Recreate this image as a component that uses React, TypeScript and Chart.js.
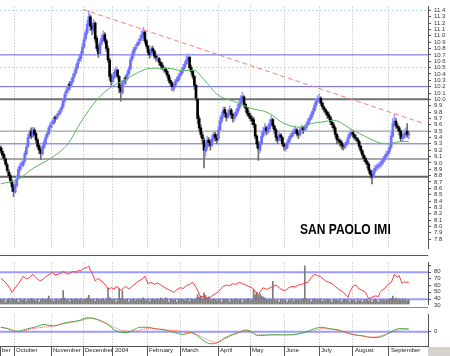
import { useEffect, useRef } from 'react';
import { Chart, registerables } from 'chart.js';
Chart.register(...registerables);

// ---------------- DATA ----------------
const OPEN = [
  9.24, 9.18, 9.13, 9.06, 8.97, 8.86, 8.80, 8.70, 8.62, 8.54,
  8.64, 8.76, 8.90, 8.97, 8.96, 9.03, 9.14, 9.26, 9.40, 9.50,
  9.42, 9.52, 9.46, 9.36, 9.27, 9.20, 9.14, 9.24, 9.30, 9.41,
  9.46, 9.56, 9.62, 9.62, 9.72, 9.70, 9.75, 9.78, 9.83, 9.88,
  9.98, 10.10, 10.15, 10.24, 10.22, 10.28, 10.36, 10.42, 10.50, 10.60,
  10.64, 10.72, 10.82, 10.95, 11.05, 11.18, 11.30, 11.16, 11.08, 11.20,
  10.96, 10.82, 10.72, 10.88, 10.96, 11.02, 10.92, 10.80, 10.62, 10.36,
  10.28, 10.34, 10.42, 10.46, 10.36, 10.18, 10.10, 10.27, 10.34, 10.32,
  10.40, 10.48, 10.62, 10.70, 10.78, 10.84, 10.86, 10.92, 10.95, 11.02,
  11.06, 10.92, 10.84, 10.74, 10.70, 10.80, 10.76, 10.68, 10.62, 10.64,
  10.58, 10.54, 10.46, 10.48, 10.44, 10.38, 10.30, 10.26, 10.16, 10.20,
  10.28, 10.30, 10.36, 10.40, 10.46, 10.50, 10.56, 10.62, 10.66, 10.50,
  10.44, 10.36, 10.22, 10.00, 9.70, 9.55, 9.44, 9.36, 9.18, 9.25,
  9.36, 9.32, 9.28, 9.38, 9.45, 9.40, 9.38, 9.52, 9.66, 9.74,
  9.84, 9.78, 9.72, 9.78, 9.83, 9.76, 9.70, 9.74, 9.80, 9.86,
  9.92, 10.00, 10.04, 9.92, 9.86, 9.78, 9.74, 9.70, 9.68, 9.60,
  9.42, 9.30, 9.20, 9.30, 9.42, 9.50, 9.55, 9.48, 9.54, 9.62,
  9.68, 9.58, 9.52, 9.40, 9.36, 9.44, 9.40, 9.30, 9.22, 9.24,
  9.32, 9.38, 9.42, 9.46, 9.50, 9.52, 9.46, 9.44, 9.52, 9.56,
  9.52, 9.56, 9.60, 9.66, 9.70, 9.76, 9.82, 9.90, 9.97, 10.00,
  10.02, 9.94, 9.88, 9.84, 9.80, 9.76, 9.72, 9.64, 9.60, 9.55,
  9.45, 9.36, 9.35, 9.32, 9.28, 9.24, 9.28, 9.32, 9.40, 9.46,
  9.48, 9.44, 9.40, 9.38, 9.34, 9.26, 9.19, 9.12, 9.07, 9.02,
  8.98, 8.88, 8.82, 8.78, 8.88, 8.92, 8.95, 8.96, 8.98, 9.02,
  9.06, 9.10, 9.14, 9.18, 9.25, 9.42, 9.62, 9.66, 9.58, 9.55,
  9.50, 9.38, 9.40, 9.46, 9.50, 9.44,
];
const HIGH = [
  9.27, 9.22, 9.15, 9.08, 9.00, 8.90, 8.84, 8.74, 8.66, 8.70,
  8.80, 8.94, 9.00, 9.03, 9.06, 9.18, 9.30, 9.45, 9.52, 9.55,
  9.56, 9.55, 9.48, 9.39, 9.30, 9.23, 9.28, 9.36, 9.44, 9.50,
  9.58, 9.64, 9.67, 9.72, 9.74, 9.78, 9.82, 9.86, 9.93, 10.02,
  10.12, 10.18, 10.24, 10.28, 10.33, 10.40, 10.46, 10.55, 10.63, 10.70,
  10.76, 10.88, 11.00, 11.10, 11.24, 11.39, 11.33, 11.20, 11.26, 11.22,
  11.00, 10.86, 10.92, 11.02, 11.08, 11.05, 10.95, 10.84, 10.65, 10.40,
  10.40, 10.48, 10.52, 10.48, 10.38, 10.22, 10.30, 10.34, 10.38, 10.45,
  10.52, 10.66, 10.75, 10.82, 10.86, 10.90, 10.95, 11.00, 11.08, 11.13,
  11.08, 10.95, 10.86, 10.78, 10.84, 10.84, 10.78, 10.72, 10.70, 10.66,
  10.60, 10.58, 10.52, 10.50, 10.46, 10.40, 10.34, 10.28, 10.24, 10.32,
  10.36, 10.40, 10.44, 10.50, 10.55, 10.60, 10.68, 10.72, 10.68, 10.54,
  10.46, 10.38, 10.24, 10.02, 9.74, 9.60, 9.48, 9.40, 9.30, 9.42,
  9.40, 9.36, 9.44, 9.50, 9.48, 9.44, 9.58, 9.72, 9.80, 9.88,
  9.88, 9.80, 9.84, 9.90, 9.86, 9.78, 9.80, 9.84, 9.92, 9.98,
  10.06, 10.11, 10.06, 9.94, 9.88, 9.82, 9.78, 9.74, 9.72, 9.62,
  9.44, 9.34, 9.34, 9.48, 9.56, 9.62, 9.58, 9.60, 9.68, 9.74,
  9.70, 9.60, 9.54, 9.42, 9.50, 9.46, 9.42, 9.32, 9.30, 9.36,
  9.42, 9.46, 9.50, 9.54, 9.58, 9.54, 9.50, 9.56, 9.60, 9.58,
  9.60, 9.64, 9.70, 9.74, 9.80, 9.86, 9.94, 10.02, 10.06, 10.09,
  10.04, 9.96, 9.90, 9.86, 9.82, 9.80, 9.74, 9.68, 9.64, 9.58,
  9.47, 9.42, 9.38, 9.35, 9.30, 9.32, 9.36, 9.44, 9.50, 9.52,
  9.50, 9.46, 9.44, 9.40, 9.36, 9.28, 9.21, 9.14, 9.09, 9.04,
  9.00, 8.90, 8.84, 8.92, 8.96, 8.98, 9.00, 9.02, 9.06, 9.10,
  9.14, 9.18, 9.22, 9.30, 9.48, 9.70, 9.77, 9.70, 9.62, 9.58,
  9.52, 9.46, 9.52, 9.55, 9.62, 9.50,
];
const LOW = [
  9.15, 9.08, 9.03, 8.95, 8.85, 8.76, 8.68, 8.55, 8.47, 8.52,
  8.62, 8.74, 8.86, 8.90, 8.94, 9.00, 9.12, 9.24, 9.38, 9.38,
  9.40, 9.42, 9.32, 9.22, 9.14, 9.05, 9.12, 9.22, 9.28, 9.38,
  9.44, 9.52, 9.55, 9.60, 9.64, 9.68, 9.72, 9.75, 9.80, 9.86,
  9.95, 10.05, 10.10, 10.15, 10.18, 10.25, 10.33, 10.40, 10.48, 10.56,
  10.60, 10.70, 10.80, 10.92, 11.02, 11.15, 11.08, 11.02, 11.05, 10.90,
  10.76, 10.66, 10.70, 10.85, 10.92, 10.88, 10.76, 10.58, 10.30, 10.22,
  10.25, 10.32, 10.38, 10.32, 10.10, 9.97, 10.08, 10.20, 10.24, 10.30,
  10.38, 10.46, 10.60, 10.66, 10.74, 10.80, 10.84, 10.88, 10.92, 10.98,
  10.88, 10.80, 10.70, 10.65, 10.68, 10.72, 10.64, 10.60, 10.60, 10.54,
  10.48, 10.46, 10.42, 10.40, 10.34, 10.26, 10.22, 10.14, 10.12, 10.18,
  10.24, 10.28, 10.32, 10.38, 10.42, 10.48, 10.54, 10.58, 10.46, 10.40,
  10.32, 10.16, 9.98, 9.62, 9.50, 9.40, 9.30, 8.92, 9.10, 9.20,
  9.26, 9.20, 9.25, 9.34, 9.34, 9.30, 9.35, 9.50, 9.62, 9.70,
  9.72, 9.66, 9.70, 9.74, 9.70, 9.64, 9.66, 9.72, 9.76, 9.82,
  9.88, 9.96, 9.88, 9.80, 9.74, 9.70, 9.66, 9.60, 9.56, 9.38,
  9.24, 9.04, 9.16, 9.28, 9.40, 9.46, 9.44, 9.46, 9.52, 9.58,
  9.54, 9.46, 9.34, 9.30, 9.34, 9.34, 9.26, 9.20, 9.18, 9.22,
  9.30, 9.34, 9.40, 9.42, 9.46, 9.42, 9.38, 9.42, 9.48, 9.46,
  9.50, 9.52, 9.58, 9.62, 9.68, 9.72, 9.80, 9.86, 9.94, 9.96,
  9.90, 9.84, 9.80, 9.76, 9.70, 9.68, 9.60, 9.56, 9.50, 9.40,
  9.30, 9.30, 9.26, 9.22, 9.20, 9.22, 9.26, 9.30, 9.38, 9.42,
  9.40, 9.36, 9.34, 9.30, 9.22, 9.15, 9.08, 9.02, 8.98, 8.92,
  8.84, 8.76, 8.67, 8.76, 8.84, 8.88, 8.90, 8.92, 8.94, 8.98,
  9.02, 9.06, 9.10, 9.14, 9.22, 9.40, 9.58, 9.54, 9.50, 9.44,
  9.34, 9.34, 9.38, 9.42, 9.40, 9.38,
];
const CLOSE = [
  9.19, 9.12, 9.07, 8.98, 8.88, 8.80, 8.72, 8.62, 8.55, 8.66,
  8.75, 8.90, 8.95, 8.98, 9.02, 9.15, 9.25, 9.40, 9.47, 9.42,
  9.50, 9.45, 9.36, 9.26, 9.20, 9.15, 9.25, 9.32, 9.40, 9.46,
  9.55, 9.60, 9.63, 9.68, 9.70, 9.74, 9.78, 9.82, 9.88, 9.98,
  10.08, 10.14, 10.19, 10.22, 10.28, 10.35, 10.41, 10.50, 10.58, 10.64,
  10.71, 10.82, 10.94, 11.05, 11.18, 11.30, 11.15, 11.10, 11.20, 10.95,
  10.80, 10.72, 10.88, 10.96, 11.00, 10.92, 10.80, 10.62, 10.36, 10.28,
  10.35, 10.43, 10.46, 10.36, 10.18, 10.12, 10.26, 10.30, 10.32, 10.40,
  10.48, 10.62, 10.70, 10.78, 10.82, 10.86, 10.90, 10.95, 11.02, 11.06,
  10.92, 10.84, 10.74, 10.70, 10.79, 10.76, 10.68, 10.66, 10.64, 10.58,
  10.53, 10.50, 10.48, 10.44, 10.38, 10.30, 10.26, 10.20, 10.19, 10.28,
  10.31, 10.35, 10.40, 10.45, 10.50, 10.56, 10.62, 10.66, 10.50, 10.44,
  10.36, 10.22, 10.02, 9.70, 9.55, 9.45, 9.38, 9.20, 9.24, 9.35,
  9.32, 9.28, 9.38, 9.45, 9.40, 9.36, 9.52, 9.66, 9.74, 9.82,
  9.78, 9.72, 9.78, 9.83, 9.76, 9.70, 9.74, 9.80, 9.86, 9.92,
  10.02, 10.05, 9.92, 9.86, 9.78, 9.74, 9.70, 9.66, 9.60, 9.42,
  9.30, 9.22, 9.30, 9.42, 9.50, 9.55, 9.50, 9.54, 9.62, 9.68,
  9.58, 9.52, 9.40, 9.36, 9.44, 9.40, 9.30, 9.26, 9.24, 9.32,
  9.38, 9.42, 9.46, 9.50, 9.52, 9.46, 9.44, 9.52, 9.56, 9.52,
  9.56, 9.60, 9.66, 9.70, 9.76, 9.82, 9.90, 9.97, 10.00, 10.02,
  9.94, 9.88, 9.84, 9.80, 9.75, 9.72, 9.65, 9.60, 9.55, 9.45,
  9.37, 9.35, 9.32, 9.28, 9.25, 9.28, 9.32, 9.40, 9.46, 9.48,
  9.44, 9.40, 9.38, 9.34, 9.26, 9.19, 9.12, 9.07, 9.02, 8.98,
  8.88, 8.82, 8.78, 8.88, 8.92, 8.94, 8.96, 8.98, 9.02, 9.06,
  9.10, 9.14, 9.18, 9.25, 9.42, 9.62, 9.66, 9.58, 9.55, 9.50,
  9.38, 9.40, 9.46, 9.48, 9.44, 9.46,
];
// volume, millions of shares
const VOLUME = [
  3.2, 2.6, 3.4, 1.5, 3.0, 3.6, 2.4, 3.8, 3.2, 2.8,
  3.4, 1.6, 3.5, 2.6, 3.0, 3.3, 1.8, 3.1, 2.9, 3.6,
  3.3, 2.7, 2.4, 3.2, 1.6, 3.0, 3.5, 2.8, 3.1, 3.4,
  5.0, 2.6, 3.3, 1.8, 3.0, 3.4, 2.5, 3.2, 3.6, 8.5,
  3.8, 2.8, 3.2, 1.7, 3.4, 3.0, 2.6, 3.5, 3.1, 2.9,
  3.6, 2.4, 3.3, 3.0, 3.8, 5.5, 3.4, 2.6, 3.2, 1.8,
  3.5, 3.0, 2.7, 3.2, 3.6, 2.4, 3.4, 10.0, 4.2, 3.0,
  2.8, 3.4, 1.6, 3.2, 9.5, 3.6, 8.5, 3.0, 2.6, 3.3,
  1.5, 3.1, 2.8, 3.4, 2.2, 3.0, 3.5, 2.6, 3.2, 4.0,
  3.0, 2.4, 3.3, 1.7, 3.0, 3.4, 2.8, 3.1, 3.6, 2.5,
  4.0, 3.2, 2.6, 4.0, 3.5, 1.6, 3.0, 3.4, 2.6, 3.2,
  1.5, 3.3, 2.9, 3.5, 3.0, 2.4, 3.2, 3.6, 1.8, 3.4,
  3.0, 2.8, 3.6, 6.0, 4.5, 5.0, 3.4, 7.0, 5.5, 4.0,
  4.6, 3.2, 2.6, 3.5, 3.0, 2.4, 3.4, 2.8, 1.6, 3.2,
  2.9, 3.4, 3.0, 1.7, 3.3, 2.6, 3.1, 3.5, 2.5, 3.0,
  3.4, 1.6, 3.0, 2.8, 3.2, 3.6, 2.4, 3.0, 9.0, 6.0,
  7.5, 5.5, 6.5, 5.0, 4.5, 4.0, 3.0, 2.6, 3.4, 2.8,
  14.0, 3.2, 2.4, 3.0, 1.6, 3.3, 2.8, 3.1, 2.5, 1.5,
  3.0, 2.6, 3.4, 1.8, 3.1, 2.7, 3.3, 2.4, 3.0, 3.5,
  23.5, 3.4, 2.8, 3.2, 1.7, 3.0, 3.5, 2.6, 3.2, 2.9,
  3.4, 1.8, 3.1, 2.6, 3.3, 3.0, 2.5, 1.6, 3.2, 2.8,
  3.0, 2.4, 3.3, 1.7, 2.9, 3.1, 2.5, 3.4, 1.6, 2.8,
  3.0, 2.6, 1.5, 3.2, 2.4, 2.8, 1.6, 3.0, 2.6, 3.3,
  2.2, 3.0, 1.6, 2.8, 3.2, 2.5, 1.5, 2.9, 2.6, 3.1,
  2.4, 3.0, 2.8, 3.4, 3.6, 5.0, 3.2, 3.8, 2.8, 3.4,
  2.6, 3.6, 2.8, 3.2, 2.4, 3.0,
];

// moving average (sampled, day index -> value)
const MA_DAYS = [0, 10.6, 20.6, 31, 42, 50, 60.6, 68.8, 77, 85.6, 93.8, 104, 114, 120.6, 127, 135.6, 145.6, 156, 167, 177, 187.5, 194, 200, 208, 219, 229, 237.5, 242, 248, 255];
const MA_VALUES = [8.67, 8.74, 8.92, 9.07, 9.30, 9.64, 10.01, 10.19, 10.30, 10.42, 10.49, 10.49, 10.45, 10.46, 10.31, 10.07, 9.97, 9.86, 9.79, 9.62, 9.56, 9.62, 9.64, 9.67, 9.53, 9.40, 9.31, 9.30, 9.33, 9.34];

// down trend line
const TREND_DAYS = [51.4, 263.9];
const TREND_VALUES = [11.415, 9.624];

// support / resistance levels
const PRICE_LEVELS = [11.4, 10.7, 10.5, 10.2, 10.0, 9.5, 9.3, 9.06, 8.78];

// RSI
const RSI_DAYS = [0, 2, 4, 6, 7, 9, 11, 13, 14, 16, 18, 20, 22, 24, 25, 27, 29, 31, 32, 34, 36, 38, 39, 41, 42, 44, 45, 47, 49, 50, 52, 54, 55, 56, 58, 59, 61, 62, 64, 66, 67, 69, 71, 72, 74, 75, 77, 78, 80, 81, 83, 85, 87, 89, 90, 92, 94, 96, 98, 100, 102, 104, 106, 108, 110, 112, 114, 116, 118, 120, 122, 123, 124, 125, 127, 129, 131, 132, 134, 136, 137, 139, 141, 143, 145, 147, 149, 151, 153, 155, 157, 159, 160, 161, 162, 164, 166, 167, 169, 170, 172, 174, 175, 177, 178, 180, 182, 184, 186, 188, 190, 192, 194, 196, 198, 200, 202, 203, 205, 207, 209, 211, 213, 214, 216, 217, 218, 220, 222, 223, 224, 226, 228, 229, 230, 232, 234, 236, 237, 238, 240, 242, 244, 245, 246, 247, 248, 249, 250, 251, 252, 253, 255];
const RSI_VALUES = [61, 57, 52, 45, 40, 47, 53, 60, 64, 60, 62, 67, 62, 58, 57, 61, 65, 67, 70, 66, 67, 69, 71, 68, 67, 70, 71, 70, 73, 72, 76, 77, 79, 73, 64, 57, 61, 58, 55, 49, 45, 47, 45, 49, 46, 43, 47, 49, 45, 47, 51, 55, 58, 61, 64, 53, 55, 52, 54, 51, 48, 45, 43, 40, 44, 47, 46, 50, 52, 55, 48, 43, 38, 33, 35, 31, 33, 35, 38, 41, 44, 49, 51, 50, 53, 52, 55, 53, 51, 49, 47, 42, 38, 37, 41, 47, 45, 45, 48, 49, 51, 47, 45, 43, 43, 47, 49, 48, 51, 52, 54, 55, 62, 67, 65, 63, 59, 57, 55, 53, 49, 45, 42, 40, 36, 33, 40, 49, 51, 48, 45, 43, 40, 35, 31, 33, 35, 34, 40, 43, 46, 52, 55, 60, 67, 64, 63, 65, 58, 53, 56, 55, 55];
const RSI_LEVELS = [70, 30];
const RSI_TICKS = [30, 40, 50, 60, 70, 80];

// MACD and signal
const MACD_DAYS = [0, 4, 8, 11, 14, 21, 27, 33, 39, 44, 49, 54, 58, 62, 67, 71, 75, 79, 83, 87, 92, 96, 102, 108, 114, 119, 123, 127, 131, 135, 140, 145, 149, 153, 156, 161, 168, 176, 182, 189, 192, 196, 201, 205, 211, 216, 221, 226, 232, 237, 241, 245, 249, 255];
const MACD_VALUES = [0.10, 0.07, 0.01, 0.01, 0.04, 0.10, 0.16, 0.13, 0.19, 0.22, 0.25, 0.31, 0.30, 0.25, 0.16, 0.04, -0.01, -0.02, 0.04, 0.10, 0.10, 0.07, 0.04, -0.01, -0.06, -0.02, -0.09, -0.21, -0.27, -0.25, -0.14, -0.06, -0.01, 0.04, 0.01, -0.09, -0.07, -0.07, -0.07, -0.02, 0.01, 0.07, 0.10, 0.07, 0.04, -0.02, -0.07, -0.09, -0.13, -0.12, -0.06, 0.02, 0.07, 0.06];
const SIGNAL_DAYS = [0, 6, 12, 20, 33, 40, 50, 56, 62, 69, 75, 83, 92, 104, 117, 123, 129, 135, 140, 149, 153, 161, 176, 192, 201, 209, 220, 232, 240, 247, 255];
const SIGNAL_VALUES = [0.10, 0.06, 0.00, 0.07, 0.13, 0.18, 0.25, 0.30, 0.25, 0.13, 0.04, 0.01, 0.07, 0.04, -0.02, -0.07, -0.18, -0.24, -0.16, -0.02, 0.02, -0.07, -0.07, -0.01, 0.07, 0.04, -0.06, -0.12, -0.07, 0.02, 0.06];
const MACD_LEVELS = [0];
const MACD_TICKS = [0];

// axes
const PRICE_TICKS = [7.8, 7.9, 8.0, 8.1, 8.2, 8.3, 8.4, 8.5, 8.6, 8.7, 8.8, 8.9, 9.0, 9.1, 9.2, 9.3, 9.4, 9.5, 9.6, 9.7, 9.8, 9.9, 10.0, 10.1, 10.2, 10.3, 10.4, 10.5, 10.6, 10.7, 10.8, 10.9, 11.0, 11.1, 11.2, 11.3, 11.4];
const MONTH_TICKS = [-0.5, 8.3, 31.4, 51.4, 70.1, 91.4, 112, 135.8, 155.8, 177, 198.9, 220.1, 242.6];
const MONTH_LABELS = ['ber', 'October', 'November', 'December', '2004', 'February', 'March', 'April', 'May', 'June', 'July', 'August', 'September'];
const STOCK_NAME = 'SAN PAOLO IMI';

// ---------------- STYLE ----------------
const FONT = '"Liberation Sans", Arial, sans-serif';
const X_MIN = -0.5;
const X_MAX = 267;
const AXIS_W = 22;
const UP_BODY = '#6e6eff';
const UP_WICK = '#a0a0ff';
const DOWN_BODY = '#000000';
const DOWN_WICK = '#6e6e6e';
const LEVEL_STYLES: Record<string, { c: string; w: number; d: number[] }> = {
  '11.4': { c: '#a9dcef', w: 1, d: [2, 2] },
  '10.7': { c: '#6464e0', w: 1, d: [] },
  '10.5': { c: '#a9dcef', w: 1, d: [2, 2] },
  '10.2': { c: '#6464e0', w: 1, d: [] },
  '10': { c: '#707070', w: 2, d: [] },
  '9.5': { c: '#8c8c8c', w: 1, d: [] },
  '9.3': { c: '#6464e0', w: 1, d: [] },
  '9.06': { c: '#a8a8a8', w: 2, d: [] },
  '8.78': { c: '#646464', w: 2, d: [] },
};

const pts = (days: number[], vals: number[]) => days.map((d, i) => ({ x: d, y: vals[i] }));
const isUp = (i: number) => CLOSE[i] >= OPEN[i];

function levelDataset(v: number, color: string, width: number, dash: number[], yAxisID = 'y') {
  return {
    type: 'line',
    data: [{ x: X_MIN, y: v }, { x: X_MAX, y: v }],
    borderColor: color,
    borderWidth: width,
    borderDash: dash,
    pointRadius: 0,
    yAxisID,
    order: 9,
  };
}

function xScale(withLabels: boolean) {
  return {
    type: 'linear',
    min: X_MIN,
    max: X_MAX,
    offset: false,
    afterBuildTicks: (s: any) => { s.ticks = MONTH_TICKS.map((v) => ({ value: v })); },
    afterFit: (s: any) => { s.height = withLabels ? 10 : 0; },
    grid: {
      color: (c: any) => (c.index === 0 ? 'rgba(0,0,0,0)' : '#b4b4b4'),
      lineWidth: 1,
      offset: false,
      drawTicks: withLabels,
      tickLength: 10,
      tickColor: '#555',
      tickBorderDash: [],
    },
    border: { display: withLabels, color: '#555', width: 1, dash: [1, 2] },
    ticks: {
      display: withLabels,
      autoSkip: false,
      maxRotation: 0,
      minRotation: 0,
      align: 'start',
      padding: -9,
      labelOffset: 2,
      color: '#222',
      font: { size: 6, family: FONT },
      callback: (_v: any, i: number) => MONTH_LABELS[i],
    },
  };
}

function yScale(min: number, max: number, ticks: number[], fmt: (v: number) => string, labelOffset = 0) {
  return {
    type: 'linear',
    position: 'right',
    min,
    max,
    afterBuildTicks: (s: any) => { s.ticks = ticks.map((v) => ({ value: v })); },
    afterFit: (s: any) => { s.width = AXIS_W; },
    grid: { drawOnChartArea: false, drawTicks: true, tickLength: 3, color: '#555', tickColor: '#555' },
    border: { display: true, color: '#555', width: 1 },
    ticks: {
      autoSkip: false,
      padding: 3,
      labelOffset,
      color: '#333',
      font: { size: 6, family: FONT },
      callback: (v: any) => fmt(Number(v)),
    },
  };
}

const baseOptions = {
  responsive: true,
  maintainAspectRatio: false,
  animation: false,
  events: [],
  plugins: { legend: { display: false }, tooltip: { enabled: false }, title: { display: false } },
};

const namePlugin = {
  id: 'stockName',
  afterDatasetsDraw(chart: any) {
    const { ctx, chartArea } = chart;
    ctx.save();
    ctx.font = `bold 14px ${FONT}`;
    ctx.fillStyle = '#000';
    ctx.textBaseline = 'alphabetic';
    ctx.translate(chartArea.left + 300, chartArea.top + 227);
    ctx.scale(0.86, 1);
    ctx.fillText(STOCK_NAME, 0, 0);
    ctx.restore();
  },
};

function mainConfig(): any {
  const days = CLOSE.map((_, i) => i);
  return {
    type: 'bar',
    data: {
      datasets: [
        ...PRICE_LEVELS.map((v) => {
          const s = LEVEL_STYLES[String(v)];
          return levelDataset(v, s.c, s.w, s.d);
        }),
        {
          type: 'bar',
          data: days.map((i) => ({ x: i, y: [LOW[i], HIGH[i]] })),
          backgroundColor: (c: any) => (isUp(c.dataIndex) ? UP_WICK : DOWN_WICK),
          barThickness: 1,
          grouped: false,
          order: 5,
        },
        {
          type: 'bar',
          data: days.map((i) => ({ x: i, y: [OPEN[i], CLOSE[i]] })),
          backgroundColor: (c: any) => (isUp(c.dataIndex) ? UP_BODY : DOWN_BODY),
          barThickness: 2,
          minBarLength: 1,
          grouped: false,
          order: 4,
        },
        {
          type: 'line',
          data: pts(MA_DAYS, MA_VALUES),
          borderColor: '#5cb85c',
          borderWidth: 1,
          pointRadius: 0,
          cubicInterpolationMode: 'monotone',
          order: 2,
        },
        {
          type: 'line',
          data: pts(TREND_DAYS, TREND_VALUES),
          borderColor: '#ff7a7a',
          borderWidth: 1,
          borderDash: [5, 3],
          pointRadius: 0,
          order: 1,
        },
      ],
    },
    options: {
      ...baseOptions,
      layout: { padding: 0 },
      scales: {
        x: xScale(false),
        y: yScale(7.654, 11.46, PRICE_TICKS, (v) => v.toFixed(1)),
      },
    },
    plugins: [namePlugin],
  };
}

function rsiConfig(): any {
  const days = VOLUME.map((_, i) => i);
  return {
    type: 'bar',
    data: {
      datasets: [
        ...RSI_LEVELS.map((v) => levelDataset(v, '#9c9cff', 2, [])),
        {
          type: 'bar',
          data: days.map((i) => ({ x: i, y: VOLUME[i] })),
          backgroundColor: '#7c7c7c',
          barThickness: 1,
          grouped: false,
          yAxisID: 'yv',
          order: 5,
        },
        {
          type: 'line',
          data: pts(RSI_DAYS, RSI_VALUES),
          borderColor: '#ff3a3a',
          borderWidth: 1,
          pointRadius: 0,
          order: 1,
        },
      ],
    },
    options: {
      ...baseOptions,
      layout: { padding: { top: 0, left: 0, right: 0, bottom: 4 } },
      scales: {
        x: xScale(false),
        y: yScale(22.36, 84.18, RSI_TICKS, (v) => String(v), 6),
        yv: { type: 'linear', display: false, min: 0, max: 25.5 },
      },
    },
  };
}

function macdConfig(): any {
  return {
    type: 'line',
    data: {
      datasets: [
        ...MACD_LEVELS.map((v) => levelDataset(v, '#9c9cff', 2, [])),
        {
          type: 'line',
          data: pts(MACD_DAYS, MACD_VALUES),
          borderColor: '#3fae3f',
          borderWidth: 1,
          pointRadius: 0,
          cubicInterpolationMode: 'monotone',
          order: 2,
        },
        {
          type: 'line',
          data: pts(SIGNAL_DAYS, SIGNAL_VALUES),
          borderColor: '#ff5050',
          borderWidth: 1,
          borderDash: [1, 1],
          pointRadius: 0,
          cubicInterpolationMode: 'monotone',
          order: 1,
        },
      ],
    },
    options: {
      ...baseOptions,
      layout: { padding: 0 },
      scales: {
        x: xScale(true),
        y: yScale(-0.32, 0.383, MACD_TICKS, (v) => String(v)),
      },
    },
  };
}

export default function App() {
  const mainRef = useRef<HTMLCanvasElement>(null);
  const rsiRef = useRef<HTMLCanvasElement>(null);
  const macdRef = useRef<HTMLCanvasElement>(null);

  useEffect(() => {
    const charts = [
      new Chart(mainRef.current as HTMLCanvasElement, mainConfig()),
      new Chart(macdRef.current as HTMLCanvasElement, macdConfig()),
      new Chart(rsiRef.current as HTMLCanvasElement, rsiConfig()),
    ];
    return () => charts.forEach((c) => c.destroy());
  }, []);

  const abs = (top: number, height: number, width = 450): any => ({ position: 'absolute', left: 0, top, width, height });

  return (
    <div style={{ position: 'absolute', left: 0, top: 0, width: 450, height: 356, background: '#fff', overflow: 'hidden' }}>
      <div style={abs(0, 255)}><canvas ref={mainRef} /></div>
      <div style={abs(308, 48)}><canvas ref={macdRef} /></div>
      <div style={abs(256, 55)}><canvas ref={rsiRef} /></div>
      <div style={{ ...abs(255, 1, 428), background: '#555' }} />
      <div style={{ ...abs(307, 1, 428), background: '#8a8a8a' }} />
      <div style={{ position: 'absolute', left: 428, top: 347, width: 22, height: 9, background: '#d6d3ce' }} />
    </div>
  );
}
